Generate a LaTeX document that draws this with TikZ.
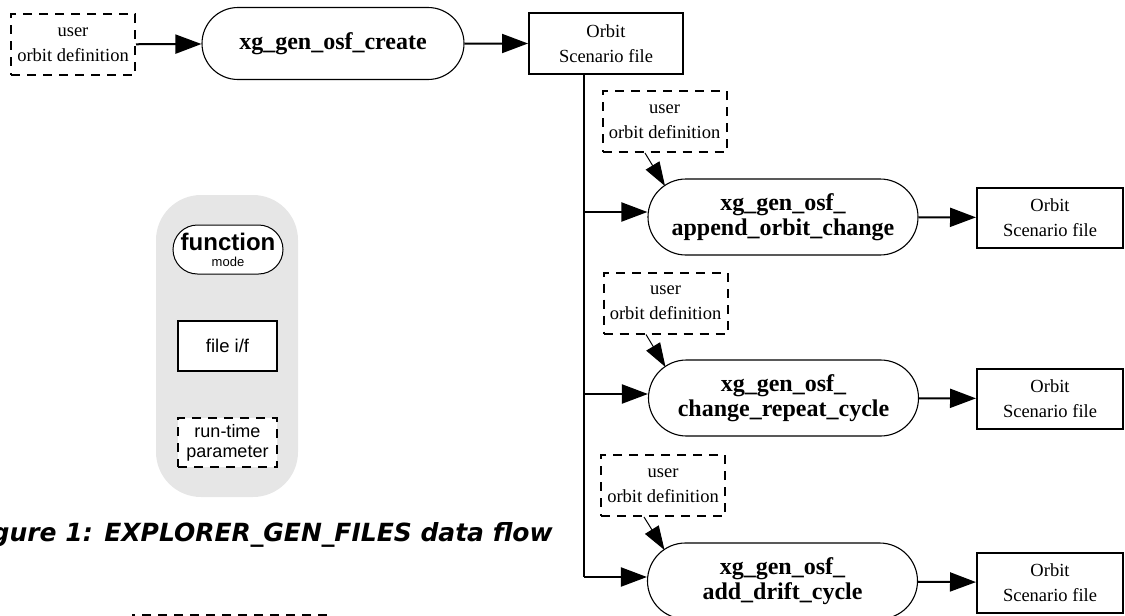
\documentclass[tikz,border=0pt]{standalone}
\usepackage{fontspec}
\setmainfont{Liberation Serif}
\newfontfamily\legfont{Liberation Sans}
\newfontfamily\capfont{DejaVu Sans}
\usetikzlibrary{arrows.meta,shapes.misc,calc}
\definecolor{leggray}{HTML}{E6E6E6}
\begin{document}
\begin{tikzpicture}[x=1pt,y=-1pt,
  serif/.style={font=\fontsize{18.5}{25}\selectfont},
  dashbox/.style={draw, line width=2pt, dash pattern=on 9pt off 7pt},
  userbox/.style={dashbox, minimum width=124pt, minimum height=61pt, inner sep=0pt, align=center, serif},
  filebox/.style={draw, line width=2pt, minimum width=146pt, minimum height=60pt, inner sep=0pt, align=center, serif},
  func/.style={draw, line width=1.1pt, rounded rectangle, minimum width=270pt, minimum height=76pt, inner sep=0pt, align=center, font=\bfseries\fontsize{24}{25.5}\selectfont},
  flow/.style={line width=2pt, -{Triangle[length=26pt,width=19pt]}},
  feed/.style={line width=1pt, -{Triangle[length=24pt,width=16pt]}},
]
\useasboundingbox (0,0) rectangle (1125,616);

% top row
\node[userbox] (u1) at (73,44.5) {user\\orbit definition};
\node[func, minimum width=262pt, minimum height=72pt] (create) at (333,43.5) {xg\_gen\_osf\_create};
\node[filebox, minimum width=154pt, minimum height=61pt] (o1) at (606,43.5) {Orbit\\Scenario file};
\draw[flow] (u1) -- (create);
\draw[flow] (create) -- (o1);

% right column
\coordinate (trunk) at (584,0);

\node[userbox] (u2) at (664.5,121.5) {user\\orbit definition};
\node[func] (append) at (783,217) {xg\_gen\_osf\_\\append\_orbit\_change};
\node[filebox] (o2) at (1050,217.5) {Orbit\\Scenario file};

\node[userbox] (u3) at (665.5,303) {user\\orbit definition};
\node[func] (change) at (783.5,398) {xg\_gen\_osf\_\\change\_repeat\_cycle};
\node[filebox] (o3) at (1050,398.5) {Orbit\\Scenario file};

\node[userbox] (u4) at (663,485.5) {user\\orbit definition};
\node[func] (add) at (782.5,581) {xg\_gen\_osf\_\\add\_drift\_cycle};
\node[filebox] (o4) at (1050,582.5) {Orbit\\Scenario file};

\draw[line width=2pt] (o1.south -| trunk) -- ($(trunk |- add.west)+(0,-4)$);
\draw[flow] ($(trunk |- append.west)+(0,-5)$) -- ($(append.west)+(0,-5)$);
\draw[flow] ($(trunk |- change.west)+(0,-4)$) -- ($(change.west)+(0,-4)$);
\draw[flow] ($(trunk |- add.west)+(0,-4)$) -- ($(add.west)+(0,-4)$);

\draw[flow] (append) -- (o2);
\draw[flow] (change) -- (o3);
\draw[flow] (add) -- (o4);

\draw[feed] ($(u2.south)+(-19.5,0)$) -- ($(append.center)+(-118,-31)$);
\draw[feed] ($(u3.south)+(-19.5,0)$) -- ($(change.center)+(-118,-31)$);
\draw[feed] ($(u4.south)+(-19,0)$) -- ($(add.center)+(-118,-31)$);

% legend
\node[fill=leggray, rounded corners=45pt, minimum width=142pt, minimum height=302pt, inner sep=0pt] (leg) at (227,346) {};
\node[draw, fill=white, line width=1pt, rounded rectangle, minimum width=110pt, minimum height=49pt, inner sep=0pt, align=center] (lfunc) at (228,249.5)
  {\legfont\bfseries\fontsize{24}{23}\selectfont function\\[4pt]\legfont\mdseries\fontsize{13}{15}\selectfont mode};
\node[draw, fill=white, line width=2pt, minimum width=99pt, minimum height=50pt, inner sep=0pt, font=\legfont\fontsize{18.5}{20}\selectfont] (lfile) at (227.5,346) {file i/f};
\node[dashbox, fill=white, minimum width=99pt, minimum height=49pt, inner sep=0pt, align=center, font=\legfont\fontsize{18}{20}\selectfont] (lrun) at (227.5,442.5) {run-time\\parameter};

% caption
\node[anchor=base east, inner sep=0pt, font=\capfont\bfseries\itshape\fontsize{25}{28}\selectfont] (cap) at (553,541) {Figure 1: EXPLORER\_GEN\_FILES data flow};

% cut-off box at the bottom
\node[dashbox, minimum width=200pt, minimum height=50pt, inner sep=0pt] (cut) at (233,639.5) {};
\end{tikzpicture}
\end{document}
